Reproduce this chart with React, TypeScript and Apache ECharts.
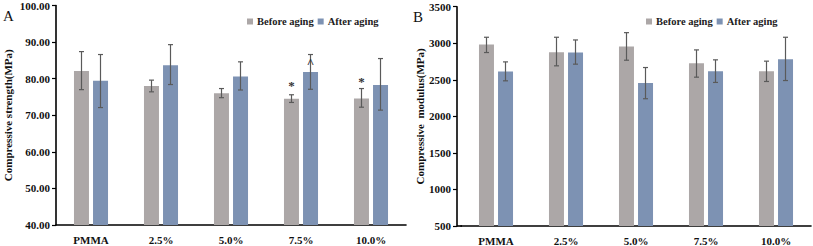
import React, { useEffect, useRef } from "react";
import * as echarts from "echarts";

const categories = ["PMMA", "2.5%", "5.0%", "7.5%", "10.0%"];
const seriesNames = ["Before aging", "After aging"];

// Panel A: compressive strength (MPa)
const strengthBefore = [82.1, 78.0, 76.0, 74.5, 74.6];
const strengthBeforeLow = [77.0, 76.4, 74.8, 73.5, 72.2];
const strengthBeforeHigh = [87.4, 79.6, 77.3, 75.6, 77.3];
const strengthAfter = [79.4, 83.7, 80.6, 81.8, 78.3];
const strengthAfterLow = [72.1, 78.4, 76.9, 77.1, 71.4];
const strengthAfterHigh = [86.6, 89.3, 84.6, 86.6, 85.5];

// Panel B: compressive modulus (MPa)
const modulusBefore = [2982, 2877, 2955, 2727, 2618];
const modulusBeforeLow = [2873, 2691, 2768, 2536, 2477];
const modulusBeforeHigh = [3082, 3082, 3145, 2909, 2755];
const modulusAfter = [2614, 2873, 2455, 2618, 2782];
const modulusAfterLow = [2486, 2714, 2241, 2464, 2490];
const modulusAfterHigh = [2745, 3045, 2668, 2773, 3082];

// Significance marks on panel A: [category index, series index, value position, text]
const sigCategory = [3, 3, 4];
const sigSeries = [0, 1, 0];
const sigValue = [78.2, 84.5, 79.3];
const sigText = ["*", "^", "*"];

const GRAY = "#aca7a7";
const BLUE = "#7d92b3";
const ERR = "#5a5a5a";
const FONT = "'Liberation Serif', 'Times New Roman', serif";
const BAR_W = 15;
const HALF_OFF = 9.5;

function errData(lowB: number[], highB: number[], lowA: number[], highA: number[]) {
  const out: number[][] = [];
  for (let i = 0; i < categories.length; i++) {
    out.push([i, lowB[i], highB[i], 0]);
    out.push([i, lowA[i], highA[i], 1]);
  }
  return out;
}

function errSeries(xi: number, data: number[][]) {
  return {
    type: "custom",
    xAxisIndex: xi,
    yAxisIndex: xi,
    data,
    z: 5,
    silent: true,
    renderItem: (params: any, api: any) => {
      const c = api.value(0);
      const s = api.value(3);
      const off = s === 0 ? -HALF_OFF : HALF_OFF;
      const lo = api.coord([c, api.value(1)]);
      const hi = api.coord([c, api.value(2)]);
      const x = lo[0] + off;
      const cap = 2.5;
      const st = { stroke: ERR, lineWidth: 1.2 };
      return {
        type: "group",
        children: [
          { type: "line", shape: { x1: x, y1: lo[1], x2: x, y2: hi[1] }, style: st },
          { type: "line", shape: { x1: x - cap, y1: lo[1], x2: x + cap, y2: lo[1] }, style: st },
          { type: "line", shape: { x1: x - cap, y1: hi[1], x2: x + cap, y2: hi[1] }, style: st },
        ],
      };
    },
  };
}

function xAxisCfg(gi: number) {
  return {
    type: "category",
    gridIndex: gi,
    data: categories,
    axisLine: { show: true, lineStyle: { color: "#000", width: 1.6 } },
    axisTick: { show: false },
    axisLabel: { color: "#111", fontFamily: FONT, fontWeight: "bold", fontSize: 11, margin: 9 },
  };
}

function yAxisCfg(gi: number, min: number, max: number, interval: number, name: string, gap: number, fmt: (v: number) => string, offset: number) {
  return {
    type: "value",
    gridIndex: gi,
    min,
    max,
    interval,
    offset,
    name,
    nameLocation: "middle",
    nameGap: gap,
    nameTextStyle: { color: "#111", fontFamily: FONT, fontWeight: "bold", fontSize: 11 },
    axisLine: { show: true, lineStyle: { color: "#000", width: 1.6 } },
    axisTick: { show: true, length: 4, lineStyle: { color: "#000", width: 1.2 } },
    splitLine: { show: false },
    axisLabel: { color: "#111", fontFamily: FONT, fontWeight: "bold", fontSize: 11, margin: 6, formatter: fmt },
  };
}

function legendCfg(left: number) {
  return {
    left,
    top: 16,
    icon: "rect",
    itemWidth: 6,
    itemHeight: 6,
    itemGap: 4,
    data: seriesNames,
    selectedMode: false,
    textStyle: { color: "#222", fontFamily: FONT, fontWeight: "bold", fontSize: 10.5, padding: [0, 0, 0, -1] },
    padding: 0,
  };
}

function barSeries(name: string, xi: number, data: number[], color: string) {
  return {
    type: "bar",
    name,
    xAxisIndex: xi,
    yAxisIndex: xi,
    data,
    barWidth: BAR_W,
    barGap: "27%",
    itemStyle: { color },
  };
}

export default function App() {
  const ref = useRef<HTMLDivElement>(null);
  useEffect(() => {
    if (!ref.current) return;
    const chart = echarts.init(ref.current, undefined, { renderer: "svg" });
    chart.setOption({
      animation: false,
      backgroundColor: "#fff",
      grid: [
        { left: 56, top: 5.5, width: 350, height: 219.5 },
        { left: 461, top: 6.7, width: 350, height: 219.3 },
      ],
      legend: [legendCfg(247), legendCfg(646)],
      xAxis: [xAxisCfg(0), xAxisCfg(1)],
      yAxis: [
        yAxisCfg(0, 40, 100, 10, "Compressive strength(MPa)", 43, (v: number) => v.toFixed(2), 0),
        yAxisCfg(1, 500, 3500, 500, "Compressive  modulus(MPa)", 24, (v: number) => String(v), 4),
      ],
      graphic: [
        { type: "text", left: 3, top: 8, style: { text: "A", font: "15px " + FONT, fill: "#111" } },
        { type: "text", left: 413, top: 9, style: { text: "B", font: "15px " + FONT, fill: "#111" } },
        { type: "line", shape: { x1: 457, y1: 226, x2: 462, y2: 226 }, style: { stroke: "#000", lineWidth: 1.6 } },
      ],
      series: [
        barSeries(seriesNames[0], 0, strengthBefore, GRAY),
        barSeries(seriesNames[1], 0, strengthAfter, BLUE),
        barSeries(seriesNames[0], 1, modulusBefore, GRAY),
        barSeries(seriesNames[1], 1, modulusAfter, BLUE),
        errSeries(0, errData(strengthBeforeLow, strengthBeforeHigh, strengthAfterLow, strengthAfterHigh)),
        errSeries(1, errData(modulusBeforeLow, modulusBeforeHigh, modulusAfterLow, modulusAfterHigh)),
        {
          type: "custom",
          xAxisIndex: 0,
          yAxisIndex: 0,
          data: sigValue.map((v, i) => [sigCategory[i], v]),
          z: 6,
          silent: true,
          renderItem: (params: any, api: any) => {
            const i = params.dataIndex;
            const p = api.coord([api.value(0), api.value(1)]);
            const off = sigSeries[i] === 0 ? -HALF_OFF : HALF_OFF;
            return {
              type: "text",
              x: p[0] + off,
              y: p[1],
              style: {
                text: sigText[i],
                font: "bold 13px " + FONT,
                fill: "#333",
                align: "center",
                verticalAlign: "middle",
              },
            };
          },
        },
      ],
    });
    return () => chart.dispose();
  }, []);
  return <div ref={ref} style={{ position: "fixed", left: 0, top: 0, width: 813, height: 246 }} />;
}
